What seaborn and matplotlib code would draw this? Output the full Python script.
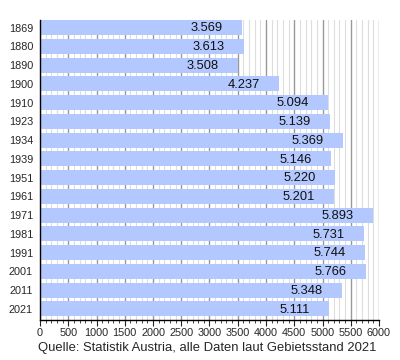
import matplotlib
matplotlib.use("Agg")
import matplotlib.pyplot as plt
import seaborn as sns
import pandas as pd
from matplotlib.ticker import MultipleLocator

years = ["1869", "1880", "1890", "1900", "1910", "1923", "1934", "1939",
         "1951", "1961", "1971", "1981", "1991", "2001", "2011", "2021"]
values = [3569, 3613, 3508, 4237, 5094, 5139, 5369, 5146,
          5220, 5201, 5893, 5731, 5744, 5766, 5348, 5111]
labels = ["3.569", "3.613", "3.508", "4.237", "5.094", "5.139", "5.369", "5.146",
          "5.220", "5.201", "5.893", "5.731", "5.744", "5.766", "5.348", "5.111"]
caption = "Quelle: Statistik Austria, alle Daten laut Gebietsstand 2021"

df = pd.DataFrame({"year": years, "value": values})

sns.set_style("white")
plt.rcParams["font.family"] = ["Liberation Sans", "DejaVu Sans"]

fig = plt.figure(figsize=(4, 3.6), dpi=100)
ax = fig.add_axes([0.1, 0.1111, 0.8475, 0.8333])

ax.xaxis.set_major_locator(MultipleLocator(500))
ax.xaxis.set_minor_locator(MultipleLocator(100))
ax.grid(which="minor", axis="x", color="#dddddd", linewidth=0.8)
ax.grid(which="major", axis="x", color="#999999", linewidth=1.0)
ax.set_axisbelow(True)

sns.barplot(data=df, x="value", y="year", orient="h", color="#b3c8ff",
            saturation=1, width=0.8, ax=ax, zorder=2, linewidth=0)

for i, (v, t) in enumerate(zip(values, labels)):
    ax.text(v - 340, i + 0.05, t, ha="right", va="center", fontsize=9.3,
            color="#111111", zorder=3)

ax.set_xlim(0, 6000)
ax.set_ylim(15.6, -0.4)
ax.set_xlabel("")
ax.set_ylabel("")
for s in ["top", "right"]:
    ax.spines[s].set_visible(False)
ax.spines["left"].set_color("black")
ax.spines["bottom"].set_color("black")
ax.spines["left"].set_linewidth(1)
ax.spines["bottom"].set_linewidth(1)
ax.tick_params(axis="x", which="major", length=4, width=0.8, direction="out",
               labelsize=7.8, pad=2, bottom=True)
ax.tick_params(axis="x", which="minor", length=2, width=0.6, direction="out",
               bottom=True)
ax.tick_params(axis="y", length=0, labelsize=7.8, pad=5)

fig.text(0.518, 0.016, caption, ha="center", va="bottom", fontsize=9.4)

fig.savefig("out.png", dpi=100)
